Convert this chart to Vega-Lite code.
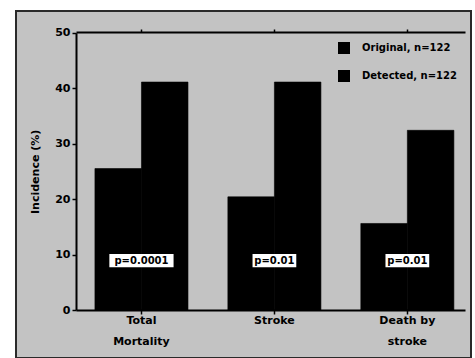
{
  "$schema": "https://vega.github.io/schema/vega-lite/v6.json",
  "width": 455,
  "height": 347,
  "autosize": {"type": "none"},
  "padding": {"left": 16, "top": 11, "right": 4, "bottom": 0},
  "background": "white",
  "config": {
    "view": {"fill": "#c3c3c3", "stroke": "#2a2a2a", "strokeWidth": 2},
    "font": "DejaVu Sans",
    "axis": {"domainColor": "black", "domainWidth": 2, "tickColor": "black", "tickWidth": 1.5, "labelColor": "black", "titleColor": "black", "grid": false}
  },
  "datasets": {
    "bars": [
      {"group": "Total Mortality", "series": "Original, n=122", "value": 25.5},
      {"group": "Total Mortality", "series": "Detected, n=122", "value": 41.1},
      {"group": "Stroke", "series": "Original, n=122", "value": 20.4},
      {"group": "Stroke", "series": "Detected, n=122", "value": 41.1},
      {"group": "Death by stroke", "series": "Original, n=122", "value": 15.6},
      {"group": "Death by stroke", "series": "Detected, n=122", "value": 32.4}
    ],
    "pvals": [
      {"group": "Total Mortality", "p": "p=0.0001"},
      {"group": "Stroke", "p": "p=0.01"},
      {"group": "Death by stroke", "p": "p=0.01"}
    ]
  },
  "layer": [
    {
      "data": {"name": "bars"},
      "mark": {"type": "bar", "stroke": "black", "strokeWidth": 0.6},
      "encoding": {
        "x": {"field": "group", "type": "nominal", "sort": ["Total Mortality", "Stroke", "Death by stroke"],
          "scale": {"range": [60, 449], "paddingInner": 0.3, "paddingOuter": 0.113, "align": 0.63},
          "axis": {"orient": "bottom", "offset": -48, "title": null, "labelAngle": 0, "tickSize": 4, "labelPadding": 6, "labelBaseline": "middle", "labelFontSize": 11, "labelFontWeight": "bold", "labelLineHeight": 21,
            "labelExpr": "datum.label == 'Total Mortality' ? ['Total','Mortality'] : datum.label == 'Death by stroke' ? ['Death by','stroke'] : datum.label"}},
        "xOffset": {"field": "series", "type": "nominal", "sort": ["Original, n=122", "Detected, n=122"], "scale": {"paddingInner": 0, "paddingOuter": 0}},
        "y": {"field": "value", "type": "quantitative", "scale": {"domain": [0, 50], "range": [299, 21.7], "nice": false},
          "axis": {"title": "Incidence (%)", "values": [0, 10, 20, 30, 40, 50], "offset": -60, "tickSize": 4, "labelFontSize": 11, "labelFontWeight": "bold", "labelPadding": 2, "titleFontSize": 11, "titleFontWeight": "bold", "titlePadding": 14}},
        "color": {"field": "series", "type": "nominal", "sort": ["Original, n=122", "Detected, n=122"], "scale": {"range": ["#000000", "#000000"]},
          "legend": {"title": null, "orient": "none", "legendX": 322, "legendY": 31, "symbolType": "square", "symbolSize": 144, "symbolStrokeWidth": 0, "symbolOpacity": 1, "labelFontSize": 10, "labelFontWeight": "bold", "labelColor": "black", "labelOffset": 12, "rowPadding": 16}}
      }
    },
    {
      "data": {"name": "pvals"},
      "transform": [{"filter": "datum.group == 'Total Mortality'"}],
      "mark": {"type": "bar", "color": "white", "width": {"band": 0.69}},
      "encoding": {
        "x": {"field": "group", "type": "nominal", "sort": ["Total Mortality", "Stroke", "Death by stroke"], "axis": null},
        "y": {"datum": 7.7, "type": "quantitative"},
        "y2": {"datum": 10.1}
      }
    },
    {
      "data": {"name": "pvals"},
      "transform": [{"filter": "datum.group != 'Total Mortality'"}],
      "mark": {"type": "bar", "color": "white", "width": {"band": 0.47}},
      "encoding": {
        "x": {"field": "group", "type": "nominal", "sort": ["Total Mortality", "Stroke", "Death by stroke"], "axis": null},
        "y": {"datum": 7.7, "type": "quantitative"},
        "y2": {"datum": 10.1}
      }
    },
    {
      "data": {"name": "pvals"},
      "mark": {"type": "text", "fontSize": 10, "fontWeight": "bold", "color": "black", "baseline": "middle", "align": "center"},
      "encoding": {
        "x": {"field": "group", "type": "nominal", "sort": ["Total Mortality", "Stroke", "Death by stroke"],
          "axis": {"orient": "top", "offset": -21, "labels": false, "title": null, "tickSize": 3}},
        "y": {"datum": 8.9, "type": "quantitative"},
        "text": {"field": "p"}
      }
    }
  ],
  "resolve": {"axis": {"x": "independent"}}
}
